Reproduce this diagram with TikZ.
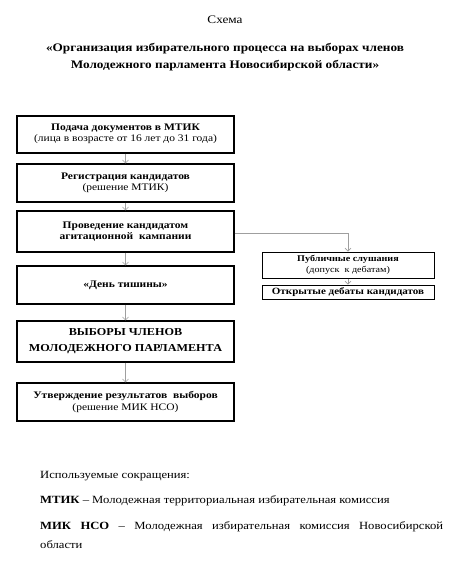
\documentclass[tikz,border=0pt]{standalone}
\usepackage{fontspec}
\setmainfont{Liberation Serif}[FakeStretch=1.15]
\usetikzlibrary{arrows.meta}
\tikzset{
  box/.style={draw=black, line width=1.2pt, align=center, inner sep=1pt, font=\fontsize{10}{11.5}\selectfont},
  mainbox/.style={box, minimum width=217pt},
  sidebox/.style={draw=black, line width=1pt, align=center, inner sep=1pt, minimum width=172pt, font=\fontsize{8.8}{11.5}\selectfont},
  conn/.style={draw=gray!75, line width=0.6pt, -{Straight Barb[length=3pt,width=6pt]}}
}
\begin{document}
\begin{tikzpicture}[x=1pt,y=-1pt]
\useasboundingbox (0,0) rectangle (471,571);
\node[font=\fontsize{11.5}{13}\selectfont] (schema) at (225,20) {Схема};
\node[font=\fontsize{11.5}{17.5}\selectfont, align=center] (title) at (225,57) {\textbf{«Организация избирательного процесса на выборах членов}\\\textbf{Молодежного парламента Новосибирской области»}};

\node[mainbox, minimum height=37pt, text depth=4pt] (b1) at (125.5,134.5) {\textbf{Подача документов в МТИК}\\(лица в возрасте от 16 лет до 31 года)};
\node[mainbox, minimum height=38pt, text depth=3pt] (b2) at (125.5,183) {\textbf{Регистрация кандидатов}\\(решение МТИК)};
\node[mainbox, minimum height=41pt] (b3) at (125.5,231.5) {\textbf{Проведение кандидатом}\\\textbf{агитационной\ \ кампании}};
\node[mainbox, minimum height=38pt] (b4) at (125.5,285) {\textbf{«День тишины»}};
\node[mainbox, minimum height=41pt, font=\fontsize{10.6}{16}\selectfont] (b5) at (125.5,341.5) {\textbf{ВЫБОРЫ ЧЛЕНОВ}\\\textbf{МОЛОДЕЖНОГО ПАРЛАМЕНТА}};
\node[mainbox, minimum height=38pt] (b6) at (125.5,402) {\textbf{Утверждение результатов\ \ выборов}\\(решение МИК НСО)};

\node[sidebox, minimum height=26pt] (s1) at (348,265) {\textbf{Публичные слушания}\\(допуск\ \ к дебатам)};
\node[sidebox, minimum height=14pt, font=\fontsize{9.6}{11}\selectfont] (s2) at (348,292) {\textbf{Открытые дебаты кандидатов}};

\draw[conn] (b1) -- (b2);
\draw[conn] (b2) -- (b3);
\draw[conn] (b3) -- (b4);
\draw[conn] (b4) -- (b5);
\draw[conn] (b5) -- (b6);
\draw[conn] (b3.east |- 0,233) -| (s1.north);
\draw[conn] (s1) -- (s2);

\node[anchor=west, font=\fontsize{11}{13}\selectfont, inner sep=0pt] (abbr) at (40,476) {Используемые сокращения:};
\node[anchor=west, font=\fontsize{11}{13}\selectfont, inner sep=0pt] (mtik) at (40,501) {\textbf{МТИК} – Молодежная территориальная избирательная комиссия};
\node[anchor=north west, font=\fontsize{11}{19}\selectfont, inner sep=0pt, text width=403pt, align=justify] (mik) at (40,521) {\textbf{МИК НСО} – Молодежная избирательная комиссия Новосибирской\linebreak области};
\end{tikzpicture}
\end{document}
